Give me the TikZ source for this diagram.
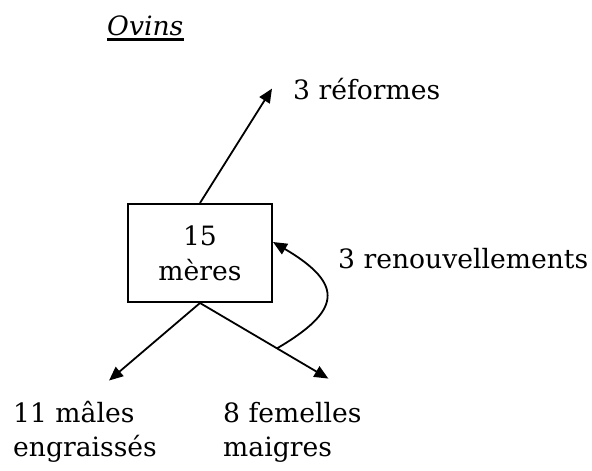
\documentclass[tikz,border=0pt]{standalone}
\usepackage{fontspec}
\setmainfont{DejaVu Serif}
\usepackage{tikz}
\usetikzlibrary{arrows.meta, positioning}

\tikzset{
  ovtext/.style={font=\fontsize{26.6}{34}\selectfont, inner sep=0pt, anchor=base west, align=left},
  ovflow/.style={line width=1.8pt, -{Triangle[length=14pt,width=12pt]}},
}

\begin{document}
\begin{tikzpicture}[x=1pt, y=-1pt]
  \useasboundingbox (0,0) rectangle (592,471);
  % title
  \node[ovtext, font=\fontsize{26.6}{34}\selectfont\itshape] (ovins) at (107,35) {Ovins};
  \draw[line width=2.8pt] ([yshift=-4.5pt]ovins.base west) -- ([yshift=-4.5pt]ovins.base east);
  % troupeau
  \node[draw, line width=2pt, minimum width=144pt, minimum height=98pt, align=center,
        font=\fontsize{26.6}{35}\selectfont] (meres) at (200,253) {15\\mères};
  \node[ovtext] (reformes) at (293,99) {3 réformes};
  \node[ovtext] (renouv) at (338,268) {3 renouvellements};
  \node[ovtext] (males) at (13,456) {11 mâles\\engraissés};
  \node[ovtext] (femelles) at (223,456) {8 femelles\\maigres};
  % flux
  \draw[ovflow] (meres.north) -- ([xshift=-21pt]reformes.west);
  \draw[ovflow] (meres.south) -- ([xshift=24pt,yshift=20pt]males.north);
  \draw[ovflow] (meres.south) -- coordinate[pos=0.6] (loopstart) ([xshift=36pt,yshift=23pt]femelles.north);
  \draw[ovflow] (loopstart) .. controls +(63,-37) and +(73,43) .. ([yshift=11pt]meres.east);
\end{tikzpicture}
\end{document}
